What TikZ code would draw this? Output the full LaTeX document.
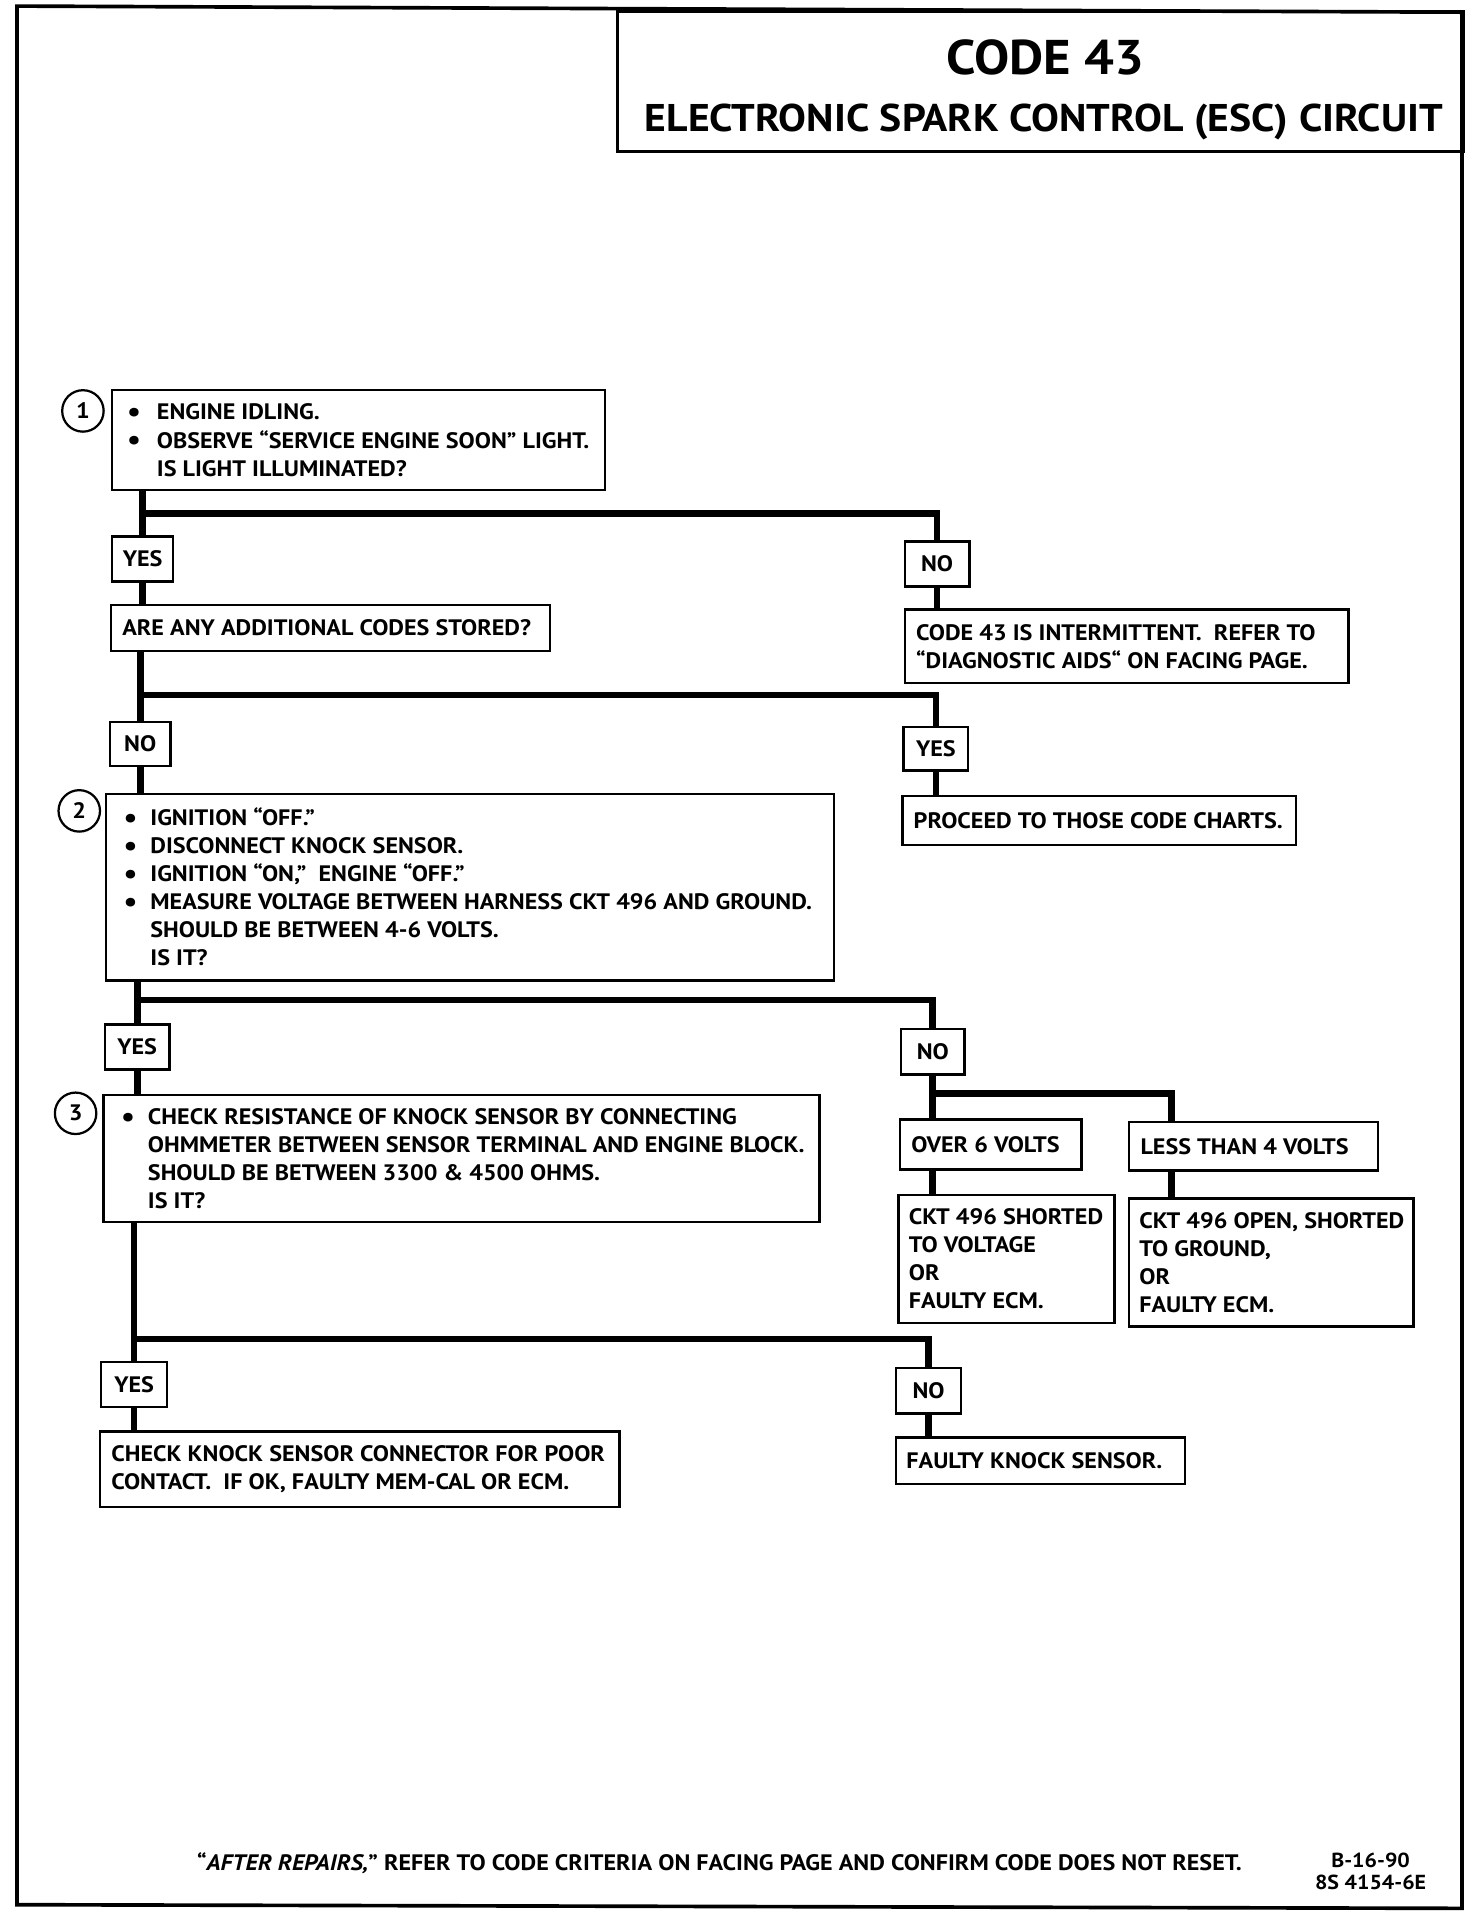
\documentclass[tikz,border=0pt]{standalone}
\usepackage{fontspec}
\setmainfont{PT Sans}[FakeStretch=1.08]
\usetikzlibrary{calc}
\newcommand\bodyfont{\fontsize{11}{13.8}\selectfont\bfseries}
\newlength\bullind
\setlength\bullind{13.2pt}
\newcommand\bl{\makebox[\bullind][l]{\raisebox{-0.9pt}{\fontsize{14}{14}\selectfont\textbullet}}}
\newcommand\ind{\hspace*{\bullind}}
\newcommand\tbox[7]{%
  \node[box, minimum width={(#4-#2)*0.6pt}, minimum height={(#5-#3)*0.6pt}] (#1) at (#2,#3) {};
  \node[txt] (#1t) at ($(#1.west)+(#6-#2,0)$) {#7};}
\newcommand\lbox[6]{%
  \node[box, font=\bodyfont, minimum width={(#4-#2)*0.6pt}, minimum height={(#5-#3)*0.6pt}] (#1) at (#2,#3) {#6};}
\begin{document}
\begin{tikzpicture}[x=0.6pt,y=-0.6pt,
  box/.style={draw, line width=1.2pt, rectangle, anchor=north west, inner sep=0pt},
  txt/.style={anchor=west, inner sep=0pt, align=left, font=\bodyfont},
  conn/.style={line width=3.3pt},
  circ/.style={draw, circle, line width=1.1pt, minimum size=20.4pt, inner sep=0pt, font=\bodyfont}]
\useasboundingbox (0,0) rectangle (1208,1568);
% outer frame
\draw[line width=1.8pt] (14,5) -- (1199,10) -- (1199,1565) -- (14,1562) -- cycle;
% title box
\node[draw, line width=1.4pt, rectangle, anchor=north west, inner sep=0pt,
  minimum width={694*0.6pt}, minimum height={115*0.6pt}] (tb) at (505,8) {};
\node[inner sep=0pt, font=\fontsize{24}{28}\selectfont\bfseries] (tcode) at ($(tb.north)+(4,39)$) {CODE 43};
\node[inner sep=0pt, font=\fontsize{19}{22}\selectfont\bfseries] (tname) at ($(tb.north)+(3,92)$) {ELECTRONIC SPARK CONTROL (ESC) CIRCUIT};

% boxes
\setlength\bullind{14.6pt}
\tbox{b1}{91}{319}{495}{401}{104}{\bl ENGINE IDLING.\\ \bl OBSERVE “SERVICE ENGINE SOON” LIGHT.\\ \ind IS LIGHT ILLUMINATED?}
\setlength\bullind{13.2pt}
\lbox{yes1}{91}{439}{141}{476}{YES}
\lbox{no1}{741}{443}{794}{480}{NO}
\tbox{ac}{90}{495}{450}{533}{100}{ARE ANY ADDITIONAL CODES STORED?}
\tbox{ci}{741}{499}{1105}{559}{751}{CODE 43 IS INTERMITTENT.\ \ REFER TO\\ “DIAGNOSTIC AIDS“ ON FACING PAGE.}
\lbox{no2}{89}{591}{139}{627}{NO}
\lbox{yes2}{740}{595}{793}{631}{YES}
\tbox{proc}{739}{652}{1062}{692}{749}{PROCEED TO THOSE CODE CHARTS.}
\tbox{b2}{86}{650}{683}{803}{101}{\bl IGNITION “OFF.”\\ \bl DISCONNECT KNOCK SENSOR.\\ \bl IGNITION “ON,”\ \ ENGINE “OFF.”\\ \bl MEASURE VOLTAGE BETWEEN HARNESS CKT 496 AND GROUND.\\ \ind SHOULD BE BETWEEN 4-6 VOLTS.\\ \ind IS IT?}
\lbox{yes3}{85}{839}{138}{876}{YES}
\lbox{no3}{738}{843}{790}{880}{NO}
\tbox{b3}{84}{897}{671}{1001}{99}{\bl CHECK RESISTANCE OF KNOCK SENSOR BY CONNECTING\\ \ind OHMMETER BETWEEN SENSOR TERMINAL AND ENGINE BLOCK.\\ \ind SHOULD BE BETWEEN 3300 \& 4500 OHMS.\\ \ind IS IT?}
\tbox{ov6}{737}{917}{886}{958}{747}{OVER 6 VOLTS}
\tbox{lt4}{925}{919}{1129}{959}{935}{LESS THAN 4 VOLTS}
\tbox{cks}{736}{979}{913}{1084}{745}{CKT 496 SHORTED\\ TO VOLTAGE\\ OR\\ FAULTY ECM.}
\tbox{cko}{925}{982}{1158}{1087}{934}{CKT 496 OPEN, SHORTED\\ TO GROUND,\\ OR\\ FAULTY ECM.}
\lbox{yes4}{82}{1116}{136}{1153}{YES}
\lbox{no4}{734}{1121}{787}{1158}{NO}
\tbox{chk}{81}{1173}{507}{1235}{91}{CHECK KNOCK SENSOR CONNECTOR FOR POOR\\ CONTACT.\ \ IF OK, FAULTY MEM-CAL OR ECM.}
\tbox{fks}{734}{1178}{971}{1216}{743}{FAULTY KNOCK SENSOR.}

% step circles
\node[circ] (c1) at (68,337) {1};
\node[circ] (c2) at (65,665) {2};
\node[circ] (c3) at (62,913) {3};

% junction levels
\coordinate (j1) at (0,421);
\coordinate (j2) at (0,570);
\coordinate (j3) at (0,820);
\coordinate (j4) at (961,897);
\coordinate (j5) at (0,1098);

% connectors
\draw[conn] (b1.south -| yes1.north) -- (yes1.north);
\draw[conn] (yes1.north |- j1) -| (no1.north);
\draw[conn] (yes1.south) -- (yes1.south |- ac.north);
\draw[conn] (no1.south) -- (no1.south |- ci.north);

\draw[conn] (ac.south -| no2.north) -- (no2.north);
\draw[conn] (no2.north |- j2) -| (yes2.north);
\draw[conn] (no2.south) -- (no2.south |- b2.north);
\draw[conn] (yes2.south) -- (yes2.south |- proc.north);

\draw[conn] (b2.south -| yes3.north) -- (yes3.north);
\draw[conn] (yes3.north |- j3) -| (no3.north);
\draw[conn] (yes3.south) -- (yes3.south |- b3.north);
\draw[conn] (no3.south) -- (no3.south |- ov6.north);
\draw[conn] (no3.south |- j4) -- (j4) -- (j4 |- lt4.north);
\draw[conn] (no3.south |- ov6.south) -- (no3.south |- cks.north);
\draw[conn] (j4 |- lt4.south) -- (j4 |- cko.north);

\draw[conn] (b3.south -| yes4.north) -- (yes4.north);
\draw[conn] (yes4.north |- j5) -| (no4.north);
\draw[conn] (yes4.south) -- (yes4.south |- chk.north);
\draw[conn] (no4.south) -- (no4.south |- fks.north);

% footer
\node[inner sep=0pt, font=\bodyfont] (foot) at (590,1528) {“\textit{AFTER REPAIRS,}” REFER TO CODE CRITERIA ON FACING PAGE AND CONFIRM CODE DOES NOT RESET.};
\node[inner sep=0pt, align=center, font=\fontsize{10}{10.8}\selectfont\bfseries] (docid) at (1124,1535) {B-16-90\\ 8S 4154-6E};
\end{tikzpicture}
\end{document}
